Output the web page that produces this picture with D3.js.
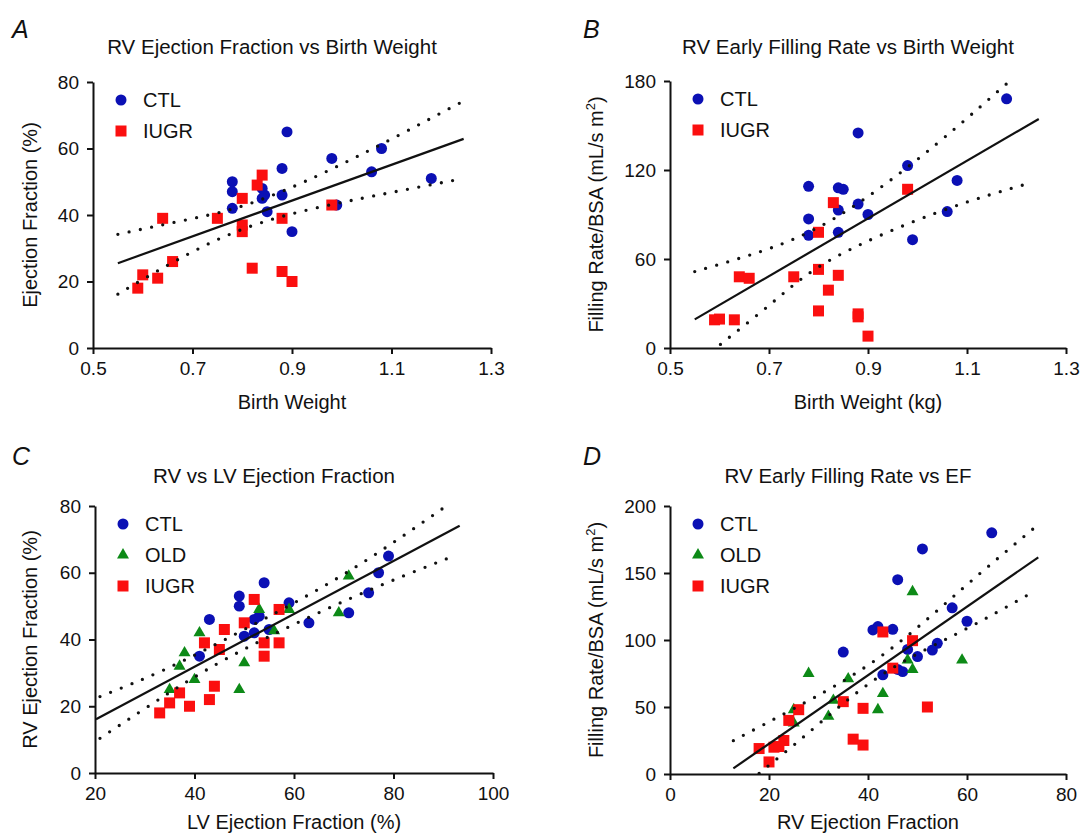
<!DOCTYPE html>
<html>
<head>
<meta charset="utf-8">
<title>RV function vs birth weight</title>
<script src="https://cdn.jsdelivr.net/npm/d3@7"></script>
<style>
	body { margin: 0; background: #fff; }
	svg text { font-family: "Liberation Sans", Arial, Helvetica, sans-serif; fill: #111; }
	.axis path, .axis line { stroke: #111; stroke-width: 2; }
	.axis text { font-size: 19px; font-family: "Liberation Sans", Arial, sans-serif; }
	.fit { fill: none; stroke: #111; stroke-width: 2.2; }
	.band { fill: none; stroke: #111; stroke-width: 3.3; stroke-linecap: round; stroke-dasharray: 0 11.5; }
</style>
</head>
<body>
<div id="chart"></div>
<script>
	// ---- panel A : RV EF vs birth weight
	var ctlA = [[0.89,65],[1.08,60],[0.98,57],[1.06,53],[1.18,51],[0.78,50],[0.88,54],[0.78,47],[0.84,48],[0.845,46],
		[0.84,45],[0.88,46],[0.78,42],[0.85,41],[0.99,43],[0.90,35]];
	var iugrA = [[0.84,52],[0.83,49],[0.80,45],[0.64,39],[0.75,39],[0.88,39],[0.80,37],[0.80,35],[0.98,43],[0.66,26],
		[0.60,22],[0.63,21],[0.59,18],[0.82,24],[0.88,23],[0.90,20]];
	var fitA = [[0.55,25.5],[1.245,62.9]];
	var upperA = [[0.55,34.2],[0.68,38.3],[0.83,44.2],[1.027,57.3],[1.245,74.3]];
	var lowerA = [[0.55,16.2],[0.667,26.3],[0.83,37.3],[1.04,45.0],[1.235,50.7]];

	// ---- panel B : RV early filling rate vs birth weight
	var ctlB = [[1.18,168],[0.88,145],[0.98,123],[1.08,113],[0.78,109],[0.84,108],[0.85,107],[0.88,97],[0.84,93],
		[0.90,90],[1.06,92],[0.78,87],[0.78,76],[0.84,78],[0.99,73]];
	var iugrB = [[0.98,107],[0.83,98],[0.80,78],[0.64,48],[0.66,47],[0.75,48],[0.80,53],[0.84,49],[0.82,39],[0.80,25],
		[0.88,23],[0.88,21],[0.90,8],[0.59,19],[0.60,19.5],[0.63,19]];
	var fitB = [[0.55,19.3],[1.245,154.4]];
	var upperB = [[0.55,51.5],[0.665,63.1],[0.83,87],[1.036,136.9],[1.183,179],[1.245,195]];
	var lowerB = [[0.55,-13],[0.593,0],[0.705,30.1],[0.83,60.5],[1.041,91.5],[1.225,111]];

	// ---- panel C : RV vs LV ejection fraction
	var ctlC = [[79,65],[77,60],[75,54],[54,57],[49,53],[49,50],[59,51],[43,46],[53,47],[52,46],[63,45],[71,48],
		[55,43],[52,42],[50,41],[41,35]];
	var oldC = [[71,59],[53,49],[59,49],[69,48],[56,42.6],[41,42],[38,36],[37,32],[50,33],[40,28],[35,25],[49,25]];
	var iugrC = [[52,52],[57,49],[50,45],[46,43],[42,39],[54,39],[57,39],[45,37],[54,35],[44,26],[37,24],[35,21],
		[43,22],[39,20],[33,18]];
	var fitC = [[20.2,16.1],[93.3,74.1]];
	var upperC = [[21,22.9],[34.3,31.2],[50,43.0],[70.3,59.8],[90.7,80.1]];
	var lowerC = [[21,10.4],[35.3,24.4],[50,37.1],[71.3,52.3],[91.7,64.8]];

	// ---- panel D : RV early filling rate vs EF
	var ctlD = [[65,180],[51,168],[46,145],[57,124],[60,114],[41,107.5],[42,110],[45,108],[35,91],[48,93],[54,97.5],
		[53,92.5],[50,87.6],[46,78],[47,76.4],[43,74]];
	var oldD = [[49,136],[59,85],[48,85],[49,78],[28,75],[36,71],[43,60],[33,55],[42,48],[32,43],[25,48],[25,38]];
	var iugrD = [[43,106],[49,99.5],[45,79],[35,54],[39,49],[52,50],[26,48],[24,40],[37,26],[39,21.6],[23,25],
		[21,20],[22,20.5],[18,19],[20,9]];
	var fitD = [[12.8,4.2],[74.4,161.7]];
	var upperD = [[12.8,24.9],[25.5,49.8],[42.2,86.8],[58.9,137.8],[73.9,184.6]];
	var lowerD = [[12.8,-16.5],[18.4,1.7],[27.6,29.6],[42.2,72.6],[58.1,105],[72.6,134.3]];

	// ---- ticks and labels
	var ticksBW = [0.5, 0.7, 0.9, 1.1, 1.3];
	var ticksEF80 = [0, 20, 40, 60, 80];
	var ticksFR180 = [0, 60, 120, 180];
	var ticksLV = [20, 40, 60, 80, 100];
	var ticksRV = [0, 20, 40, 60, 80];
	var ticksFR200 = [0, 50, 100, 150, 200];
	var titles = ["RV Ejection Fraction vs Birth Weight", "RV Early Filling Rate vs Birth Weight",
		"RV vs LV Ejection Fraction", "RV Early Filling Rate vs EF"];
	var xLabels = ["Birth Weight", "Birth Weight (kg)", "LV Ejection Fraction (%)", "RV Ejection Fraction"];
	var yLabels = ["Ejection Fraction (%)", "Filling Rate/BSA (mL/s m", "RV Ejection Fraction (%)", "Filling Rate/BSA (mL/s m"];

	var styles = {
		CTL: { shape: d3.symbolCircle, size: 95, color: "#0b10b4" },
		OLD: { shape: d3.symbolTriangle, size: 62, color: "#0d8a17" },
		IUGR: { shape: d3.symbolSquare, size: 121, color: "#fb0f0f" }
	};

	var panels = [
		{ letter: "A", lx: 12, ly: 38, xr: [93, 491], yr: [348, 82], xd: [0.5, 1.3], yd: [0, 80], xt: ticksBW, yt: ticksEF80, xf: ".1f",
			groups: [["CTL", ctlA], ["IUGR", iugrA]], fit: fitA, bands: [upperA, lowerA], titleY: 54, xLabY: 409, yLabX: 37, sup: false },
		{ letter: "B", lx: 583, ly: 38, xr: [670, 1066], yr: [348, 81], xd: [0.5, 1.3], yd: [0, 180], xt: ticksBW, yt: ticksFR180, xf: ".1f",
			groups: [["CTL", ctlB], ["IUGR", iugrB]], fit: fitB, bands: [upperB, lowerB], titleY: 54, xLabY: 409, yLabX: 603, sup: true },
		{ letter: "C", lx: 12, ly: 465, xr: [95, 493], yr: [773, 506], xd: [20, 100], yd: [0, 80], xt: ticksLV, yt: ticksEF80, xf: "d",
			groups: [["CTL", ctlC], ["OLD", oldC], ["IUGR", iugrC]], fit: fitC, bands: [upperC, lowerC], titleY: 483, xLabY: 829, yLabX: 37, sup: false },
		{ letter: "D", lx: 583, ly: 465, xr: [670, 1066], yr: [774, 506], xd: [0, 80], yd: [0, 200], xt: ticksRV, yt: ticksFR200, xf: "d",
			groups: [["CTL", ctlD], ["OLD", oldD], ["IUGR", iugrD]], fit: fitD, bands: [upperD, lowerD], titleY: 483, xLabY: 829, yLabX: 603, sup: true }
	];

	var svg = d3.select("#chart")
		.append("svg")
		.attr("width", 1084)
		.attr("height", 834);

	panels.forEach(function(p, i) {
		var x = d3.scaleLinear().domain(p.xd).range(p.xr);
		var y = d3.scaleLinear().domain(p.yd).range(p.yr);
		var g = svg.append("g");

		// panel letter + title
		g.append("text")
			.attr("x", p.lx).attr("y", p.ly)
			.attr("font-size", 25).attr("font-style", "italic")
			.text(p.letter);
		g.append("text")
			.attr("x", (p.xr[0] + p.xr[1]) / 2 - 20).attr("y", p.titleY)
			.attr("text-anchor", "middle").attr("font-size", 20.5)
			.text(titles[i]);

		// axes
		g.append("g")
			.attr("class", "axis")
			.attr("transform", "translate(0," + p.yr[0] + ")")
			.call(d3.axisBottom(x).tickValues(p.xt).tickFormat(d3.format(p.xf)).tickSize(6).tickSizeOuter(0).tickPadding(8));
		g.append("g")
			.attr("class", "axis")
			.attr("transform", "translate(" + p.xr[0] + ",0)")
			.call(d3.axisLeft(y).tickValues(p.yt).tickSize(6).tickSizeOuter(0).tickPadding(8));

		// axis titles
		g.append("text")
			.attr("x", (p.xr[0] + p.xr[1]) / 2).attr("y", p.xLabY)
			.attr("text-anchor", "middle").attr("font-size", 20)
			.text(xLabels[i]);
		var yl = g.append("text")
			.attr("transform", "translate(" + p.yLabX + "," + (p.yr[0] + p.yr[1]) / 2 + ") rotate(-90)")
			.attr("text-anchor", "middle").attr("font-size", 20)
			.text(yLabels[i]);
		if (p.sup) {
			yl.append("tspan").attr("dy", -8).attr("font-size", 13).text("2");
			yl.append("tspan").attr("dy", 8).text(")");
		}

		// clip for fit and bands
		svg.append("clipPath").attr("id", "clip" + p.letter)
			.append("rect")
			.attr("x", p.xr[0]).attr("y", p.yr[1])
			.attr("width", p.xr[1] - p.xr[0]).attr("height", p.yr[0] - p.yr[1]);

		// points
		p.groups.forEach(function(gr) {
			var st = styles[gr[0]];
			g.append("g")
				.selectAll("path")
				.data(gr[1])
				.enter().append("path")
				.attr("d", d3.symbol().type(st.shape).size(st.size))
				.attr("transform", function(d) { return "translate(" + x(d[0]) + "," + y(d[1]) + ")"; })
				.attr("fill", st.color);
		});

		// regression line and confidence band
		var lines = g.append("g").attr("clip-path", "url(#clip" + p.letter + ")");
		lines.append("path")
			.datum(p.fit)
			.attr("class", "fit")
			.attr("d", d3.line().x(function(d) { return x(d[0]); }).y(function(d) { return y(d[1]); }));
		p.bands.forEach(function(b) {
			lines.append("path")
				.datum(b)
				.attr("class", "band")
				.attr("d", d3.line().curve(d3.curveNatural).x(function(d) { return x(d[0]); }).y(function(d) { return y(d[1]); }));
		});

		// legend
		var lx = p.xr[0] + 28, ly = p.yr[1] + 18;
		p.groups.forEach(function(gr, k) {
			var st = styles[gr[0]];
			g.append("path")
				.attr("d", d3.symbol().type(st.shape).size(st.size))
				.attr("transform", "translate(" + lx + "," + (ly + k * 31) + ")")
				.attr("fill", st.color);
			g.append("text")
				.attr("x", lx + 22).attr("y", ly + k * 31 + 7)
				.attr("font-size", 20)
				.text(gr[0]);
		});
	});
</script>
</body>
</html>
